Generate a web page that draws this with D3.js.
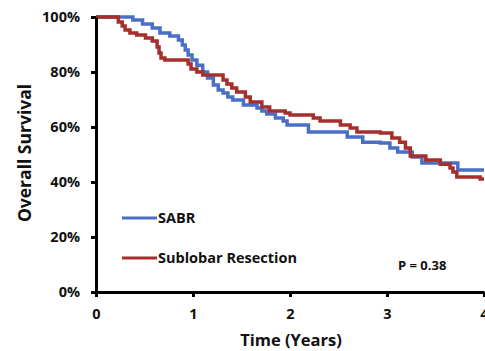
<!DOCTYPE html>
<html>
<head>
<meta charset="utf-8">
<script src="https://cdn.jsdelivr.net/npm/d3@7"></script>
<style>
body { margin: 0; background: #fff; }
svg text { font-family: "Open Sans", Lato, sans-serif; font-weight: bold; fill: #111; }
</style>
</head>
<body>
<svg id="chart" width="485" height="351"></svg>
<script>
(function() {
'use strict';

// Kaplan-Meier steps: time (years) and survival (%) after each event
var sabrTime = [0, 0.38, 0.48, 0.58, 0.66, 0.76, 0.85, 0.89, 0.92, 0.95, 0.99, 1.04, 1.10, 1.15, 1.21,
    1.26, 1.31, 1.36, 1.41, 1.52, 1.66, 1.71, 1.76, 1.85, 1.93, 1.97, 2.19, 2.59, 2.75, 2.93, 3.03,
    3.11, 3.26, 3.36, 3.73, 4.0];
var sabrSurv = [100, 98.9, 97.5, 96.0, 94.2, 93.1, 91.6, 89.8, 88.0, 86.2, 84.4, 82.5, 80.0, 77.8, 75.3,
    73.5, 72.4, 70.9, 69.8, 68.0, 66.9, 65.8, 64.7, 63.3, 62.2, 60.7, 58.2, 56.4, 54.5, 54.2, 52.4,
    50.9, 49.1, 46.9, 44.4, 44.4];

var sublobarTime = [0, 0.23, 0.27, 0.30, 0.35, 0.42, 0.51, 0.58, 0.63, 0.65, 0.67, 0.71, 0.95, 0.98, 1.04,
    1.10, 1.31, 1.35, 1.40, 1.45, 1.54, 1.59, 1.71, 1.79, 1.95, 2.00, 2.24, 2.31, 2.52, 2.62, 2.69,
    2.93, 3.05, 3.13, 3.19, 3.24, 3.40, 3.55, 3.65, 3.68, 3.72, 3.96, 4.0];
var sublobarSurv = [100, 98.2, 96.7, 95.3, 94.2, 93.5, 92.4, 91.3, 89.1, 86.9, 85.1, 84.4, 82.9, 81.1, 80.0,
    78.9, 77.1, 75.6, 74.2, 72.7, 70.9, 69.1, 67.3, 65.8, 65.1, 64.4, 63.3, 62.2, 60.7, 59.6, 58.2,
    57.8, 56.0, 54.5, 52.4, 49.5, 48.0, 46.5, 45.1, 43.6, 41.8, 41.1, 41.1];

var seriesNames = ['SABR', 'Sublobar Resection'];
var seriesColors = ['#4a6fc6', '#a52f2c'];
var xTicks = [0, 1, 2, 3, 4];
var yTicks = [0, 20, 40, 60, 80, 100];
var pValueLabel = 'P = 0.38';

var svg = d3.select('#chart');

var x = d3.scaleLinear().domain([0, 4]).range([96, 484]);
var y = d3.scaleLinear().domain([0, 100]).range([292, 17]);

var series = [
    { name: seriesNames[0], color: seriesColors[0], t: sabrTime, s: sabrSurv },
    { name: seriesNames[1], color: seriesColors[1], t: sublobarTime, s: sublobarSurv }
];

var line = d3.line()
    .x(function(d) { return x(d[0]); })
    .y(function(d) { return y(d[1]); })
    .curve(d3.curveStepAfter);

series.forEach(function(sr) {
    var pts = sr.t.map(function(t, i) { return [t, sr.s[i]]; });
    svg.append('path')
        .datum(pts)
        .attr('d', line)
        .attr('fill', 'none')
        .attr('stroke', sr.color)
        .attr('stroke-width', 3.5);
});

// axes
var yAxis = svg.append('g')
    .attr('transform', 'translate(96,0)')
    .call(d3.axisLeft(y).tickValues(yTicks).tickSize(5).tickSizeOuter(0).tickPadding(11)
        .tickFormat(function(d) { return d + '%'; }));
var xAxis = svg.append('g')
    .attr('transform', 'translate(0,292)')
    .call(d3.axisBottom(x).tickValues(xTicks).tickSize(5).tickSizeOuter(0).tickPadding(12)
        .tickFormat(d3.format('d')));

[yAxis, xAxis].forEach(function(g) {
    g.select('.domain').attr('stroke', '#000').attr('stroke-width', 3);
    g.selectAll('.tick line').attr('stroke', '#000').attr('stroke-width', 3);
    g.selectAll('.tick text')
        .attr('font-size', 14.5)
        .attr('font-family', '"Open Sans", sans-serif')
        .attr('font-weight', 'bold')
        .attr('fill', '#111');
});

// axis titles
svg.append('text')
    .attr('x', 291).attr('y', 346)
    .attr('text-anchor', 'middle')
    .attr('font-size', 16.5)
    .text('Time (Years)');
svg.append('text')
    .attr('transform', 'translate(31,153) rotate(-90)')
    .attr('text-anchor', 'middle')
    .attr('font-size', 17.5)
    .text('Overall Survival');

// legend
var legendY = [218, 258];
series.forEach(function(sr, i) {
    svg.append('line')
        .attr('x1', 122).attr('x2', 157)
        .attr('y1', legendY[i]).attr('y2', legendY[i])
        .attr('stroke', sr.color)
        .attr('stroke-width', 3);
    svg.append('text')
        .attr('x', 158).attr('y', legendY[i] + 5)
        .attr('font-size', 14.5)
        .text(sr.name);
});

svg.append('text')
    .attr('x', 398).attr('y', 270)
    .attr('font-size', 13)
    .text(pValueLabel);

})();
</script>
</body>
</html>
